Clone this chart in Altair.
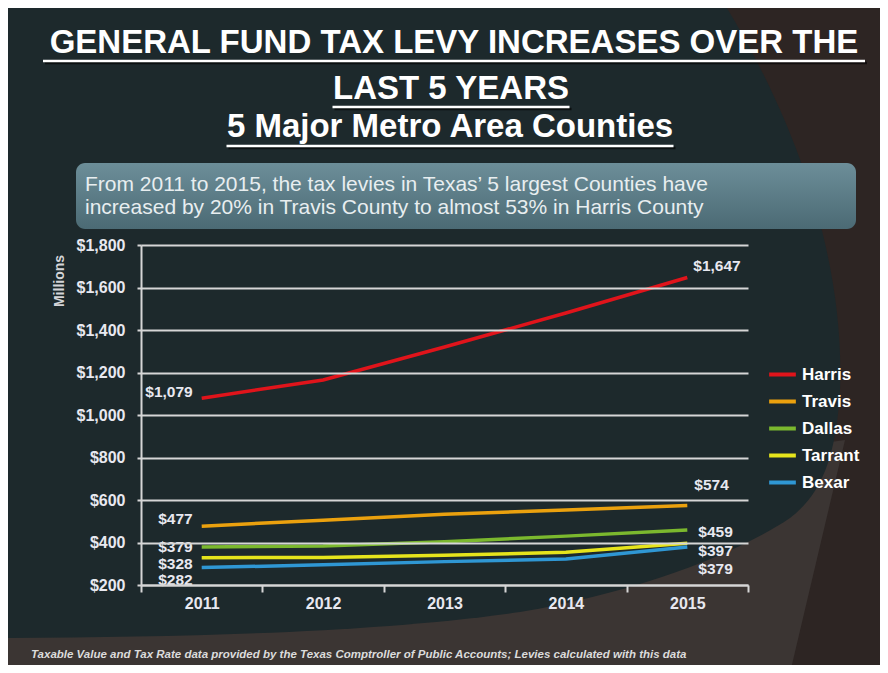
import altair as alt
import pandas as pd

# ---------------- data ----------------
years = ["2011", "2012", "2013", "2014", "2015"]
counties = ["Harris", "Travis", "Dallas", "Tarrant", "Bexar"]
harris = [1079, 1165, 1320, 1480, 1647]
travis = [477, 505, 533, 553, 574]
dallas = [379, 383, 403, 430, 459]
tarrant = [328, 330, 340, 354, 397]
bexar = [282, 295, 310, 322, 379]
y_ticks = [200, 400, 600, 800, 1000, 1200, 1400, 1600, 1800]

title_lines = ["GENERAL FUND  TAX LEVY INCREASES OVER THE", "LAST 5 YEARS", "5 Major Metro Area Counties"]
callout_lines = ["From 2011 to  2015, the tax  levies in Texas\u2019 5 largest Counties have",
                 "increased by 20% in Travis County to almost 53% in Harris County"]
footer = "Taxable Value and Tax Rate data provided by the Texas Comptroller of Public Accounts; Levies calculated with this data"

colors = ["#e0141b", "#eba10e", "#7bb82e", "#e6e41c", "#2f97d4"]

series = [harris, travis, dallas, tarrant, bexar]
rows = []
for name, vals in zip(counties, series):
    for yr, v in zip(years, vals):
        rows.append({"County": name, "Year": yr, "Levy": v})
df = pd.DataFrame(rows)

FONT = "Liberation Sans"
TXT = "#e8e8f0"
GRID = "#d6d6d6"

# plot area origin sits at page (141, 245)
OX, OY = 141, 245

x_scale = alt.Scale(type="band", domain=years, paddingInner=0, paddingOuter=0)
y_scale = alt.Scale(domain=[200, 1800], nice=False, zero=False)

x_axis = alt.Axis(title=None, labelAngle=0, labelFont=FONT, labelFontWeight="bold",
                  labelFontSize=16, labelColor=TXT, domainColor=GRID, domainWidth=2,
                  tickColor=GRID, tickWidth=2, tickSize=7, tickBand="extent",
                  labelPadding=3, grid=False, zindex=1)
y_axis = alt.Axis(title=None, values=y_ticks, format="$,.0f", grid=True, gridColor=GRID,
                  gridWidth=2, domainColor=GRID, domainWidth=2, tickColor=GRID, tickWidth=2,
                  tickSize=4, labelPadding=12, labelFont=FONT, labelFontWeight="bold",
                  labelFontSize=16, labelColor=TXT, zindex=1)

one = alt.Data(values=[{"k": 1}])

# ---------------- background decoration ----------------
gray_path = "M 0 560 L 845 440 L 790 673 L 0 673 Z"
teal_path = ("M 0 0 L 722 0 C 790 110 845 250 840 390 C 836 460 820 495 790 518 "
             "C 740 552 640 592 520 612 C 380 632 200 637 0 638 Z")

def shape(path, color):
    return alt.Chart(one).mark_point(shape=path, size=4, filled=True, fill=color,
                                     strokeWidth=0, opacity=1).encode(
        x=alt.value(-OX), y=alt.value(-OY))

bg_layers = [shape(gray_path, "#3b3533"), shape(teal_path, "#1d292c")]

# ---------------- helpers ----------------
def txt(text, px, py, size, color, weight="bold", align="center", baseline="alphabetic",
        angle=0, style="normal", font=FONT, opacity=1):
    return alt.Chart(one).mark_text(text=text, font=font, fontSize=size, fontWeight=weight,
                                    fontStyle=style, color=color, align=align,
                                    baseline=baseline, angle=angle, opacity=opacity).encode(
        x=alt.value(px - OX), y=alt.value(py - OY))

def rule(x1, x2, py, color, width, opacity=1):
    return alt.Chart(one).mark_rule(color=color, strokeWidth=width, opacity=opacity).encode(
        x=alt.value(x1 - OX), x2=alt.value(x2 - OX), y=alt.value(py - OY))

# ---------------- title ----------------
title_pos = [(454, 53, 61, 822), (451, 99, 107, 237), (450, 137, 146, 447)]
title_layers = []
for line, (cx, base, uy, w) in zip(title_lines, title_pos):
    title_layers.append(rule(cx - w / 2 + 2, cx + w / 2 + 2, uy + 2, "#000000", 2.5, 0.6))
    title_layers.append(txt(line, cx, base, 33, "#ffffff"))
    title_layers.append(rule(cx - w / 2, cx + w / 2, uy, "#ffffff", 2.5))

# ---------------- callout ----------------
callout_box = alt.Chart(one).mark_rect(
    cornerRadius=9,
    color=alt.Gradient(gradient="linear",
                       stops=[alt.GradientStop(color="#6c8e99", offset=0),
                              alt.GradientStop(color="#4b6a74", offset=1)],
                       x1=0, x2=0, y1=0, y2=1)).encode(
    x=alt.value(76 - OX), x2=alt.value(856 - OX), y=alt.value(163 - OY), y2=alt.value(229 - OY))
callout_layers = [callout_box,
                  txt(callout_lines[0], 85, 191, 21, "#e8eef0", weight="normal", align="left"),
                  txt(callout_lines[1], 85, 214, 21, "#e8eef0", weight="normal", align="left")]

# ---------------- chart ----------------
lines = alt.Chart(df).mark_line(strokeWidth=3.5).encode(
    x=alt.X("Year:O", scale=x_scale, axis=x_axis, bandPosition=0.5),
    y=alt.Y("Levy:Q", scale=y_scale, axis=y_axis),
    color=alt.Color("County:N", scale=alt.Scale(domain=counties, range=colors),
                    legend=alt.Legend(orient="none", legendX=626, legendY=114, title=None,
                                      symbolType="stroke", symbolSize=713, symbolStrokeWidth=4,
                                      labelFont=FONT, labelFontWeight="bold", labelFontSize=17,
                                      labelColor="#ffffff", labelOffset=4, rowPadding=3,
                                      padding=0)),
    detail="County:N",
)

# label offsets (style only)
start_dy = {"Harris": -6, "Travis": -7, "Dallas": 0, "Tarrant": 6, "Bexar": 12}
end_dx = {"Harris": 6, "Travis": 7, "Dallas": 11, "Tarrant": 11, "Bexar": 11}
end_dy = {"Harris": -12, "Travis": -21, "Dallas": 2, "Tarrant": 8, "Bexar": 22}

label_layers = []
for name in counties:
    for yr, align, dx, dy in [(years[0], "right", -9, start_dy[name]),
                              (years[-1], "left", end_dx[name], end_dy[name])]:
        label_layers.append(
            alt.Chart(df).transform_filter(
                (alt.datum.County == name) & (alt.datum.Year == yr)
            ).mark_text(font=FONT, fontWeight="bold", fontSize=15.5, color=TXT, align=align,
                        baseline="middle", dx=dx, dy=dy).encode(
                x=alt.X("Year:O", scale=x_scale, bandPosition=0.5),
                y=alt.Y("Levy:Q", scale=y_scale),
                text=alt.Text("Levy:Q", format="$,.0f"),
            ))

misc_layers = [
    txt("Millions", 60, 281, 14, "#d4d4d8", baseline="middle", angle=270),
    txt(footer, 31, 655, 11.5, "#dcdcdc", align="left", baseline="middle", style="italic"),
]

chart = alt.layer(*bg_layers, *title_layers, *callout_layers, lines, *label_layers,
                  *misc_layers).properties(
    width=607, height=340,
    autosize=alt.AutoSizeParams(type="none"),
    padding={"left": 133, "top": 237, "right": 132, "bottom": 80},
    background="#2d2523",
).configure_view(strokeWidth=0)

chart.save("out.html", embed_options={"renderer": "svg", "actions": False})
